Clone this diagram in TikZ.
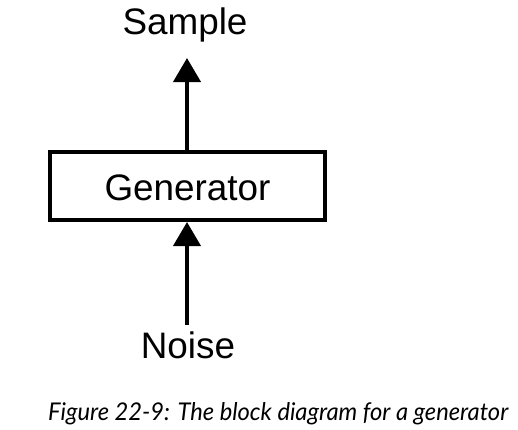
\documentclass[tikz,border=0pt]{standalone}
\usepackage{fontspec}
\setmainfont{Liberation Sans}
\newfontfamily\capfont{Lato}
\usetikzlibrary{arrows.meta}
\tikzset{
  lbl/.style={font=\fontsize{37}{40}\selectfont, inner sep=0pt, anchor=base},
  blockbox/.style={draw, line width=4bp, minimum width=275bp, minimum height=68bp, inner sep=0pt},
  flow/.style={line width=4bp, -{Triangle[width=27bp,length=24bp]}}
}
\begin{document}
\begin{tikzpicture}[x=1bp,y=-1bp]
\useasboundingbox (0,0) rectangle (518,429);
\node[blockbox] (gen) at (187.5,186) {};
\node[lbl] (gentext) at (187.5,200) {Generator};
\node[lbl] (sample) at (185,34) {Sample};
\node[lbl] (noise) at (188,358) {Noise};
\coordinate (stip) at (187,58);
\coordinate (ntail) at (187,325);
\draw[flow] (gen.north -| stip) -- (stip);
\draw[flow] (ntail) -- (gen.south -| ntail);
\node[anchor=base west, inner sep=0pt] (cap) at (48,420) {\resizebox{460bp}{18bp}{\capfont\itshape\fontsize{20}{22}\selectfont Figure 22-9: The block diagram for a generator}};
\end{tikzpicture}
\end{document}
